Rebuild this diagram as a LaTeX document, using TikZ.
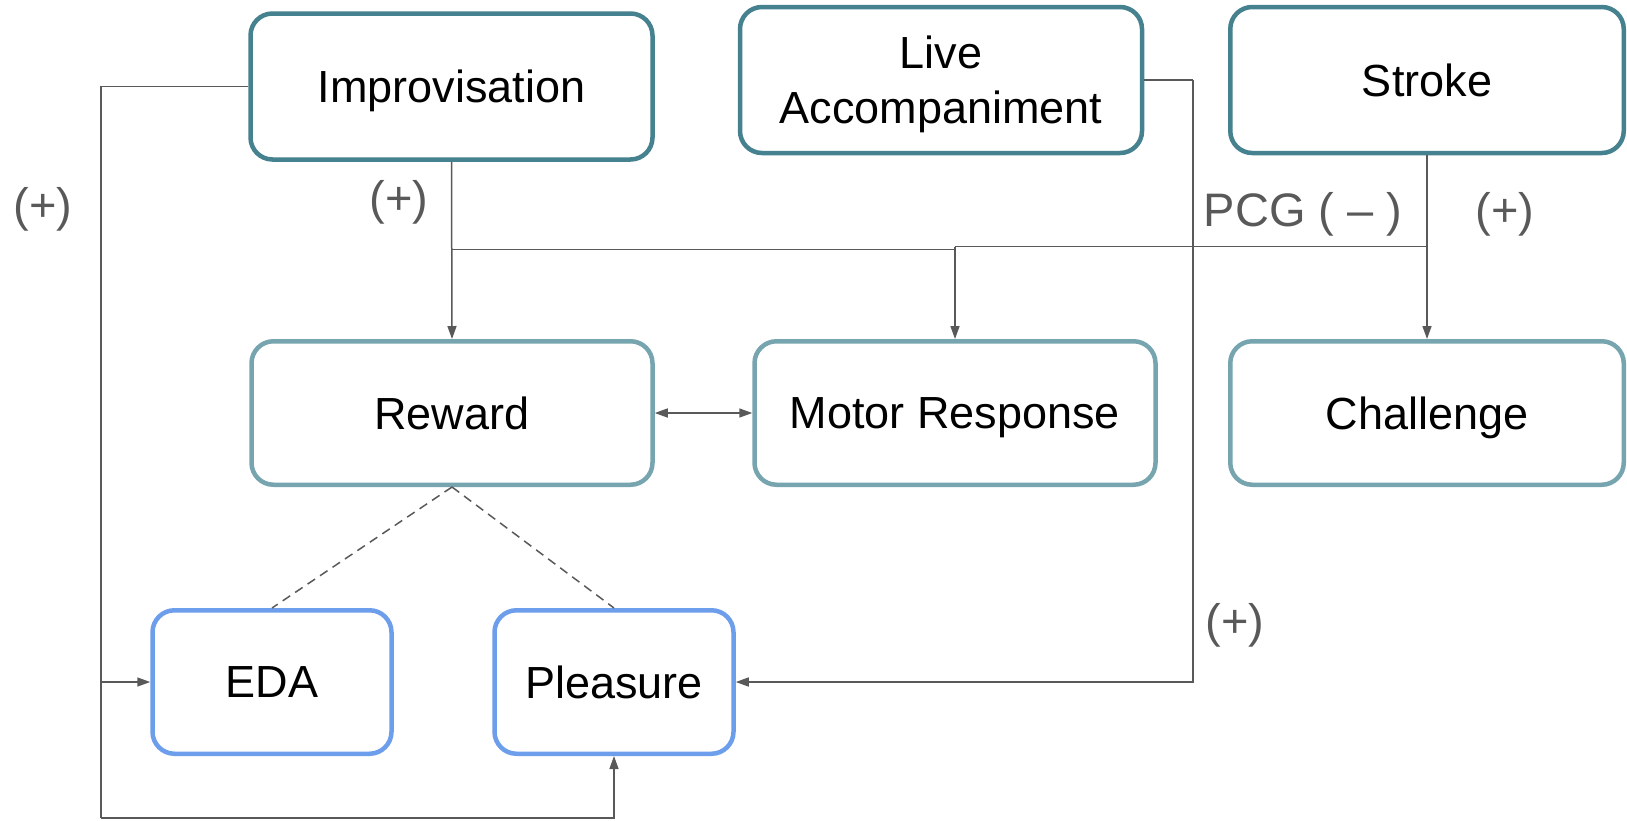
\documentclass[tikz,border=0pt]{standalone}
\usepackage{fontspec}
\setmainfont{Liberation Sans}
\usetikzlibrary{arrows.meta}
\definecolor{tealdark}{HTML}{45818E}
\definecolor{teallight}{HTML}{76A5AF}
\definecolor{bluebox}{HTML}{6D9EEB}
\definecolor{linegray}{HTML}{595959}
\begin{document}
\begin{tikzpicture}[x=0.5pt,y=-0.5pt,
  box/.style={draw, rounded corners=11pt, line width=2.25pt, fill=white, inner sep=0pt,
    align=center, text depth=0pt, font=\fontsize{22.5}{27.5}\selectfont, text=black},
  topbox/.style={box, draw=tealdark, minimum width=201pt, minimum height=73pt},
  midbox/.style={box, draw=teallight, minimum width=200.5pt, minimum height=71.75pt},
  lowbox/.style={box, draw=bluebox, minimum width=119.5pt, minimum height=71.75pt},
  conn/.style={draw=linegray, line width=0.75pt},
  arr/.style={conn, -{Triangle[length=6.5pt,width=4.5pt]}},
  darr/.style={conn, {Triangle[length=6.5pt,width=4.5pt]}-{Triangle[length=6.5pt,width=4.5pt]}},
  dashln/.style={conn, dash pattern=on 4.5pt off 3pt},
  lbl/.style={text=linegray, font=\fontsize{23.5}{28}\selectfont, inner sep=0pt},
]
\useasboundingbox (0,0) rectangle (1627,820);

% nodes
\node[topbox] (imp) at (451.5,86.5) {Improvisation};
\node[topbox] (live) at (941,80) {Live\\Accompaniment};
\node[topbox, minimum width=196.75pt] (stroke) at (1427,80) {Stroke};
\node[midbox] (reward) at (452,413) {Reward};
\node[midbox] (motor) at (955,413) {Motor Response};
\node[midbox, minimum width=196.75pt] (chal) at (1427,413) {Challenge};
\node[lowbox] (eda) at (272,682) {EDA};
\node[lowbox] (pleas) at (614,682) {Pleasure};

% helper coordinates
\coordinate (LT) at (101,86.5);
\coordinate (LB) at (101,818);
\coordinate (LE) at (101,682);
\coordinate (IJ) at (452,249.5);
\coordinate (MI) at (955,249.5);
\coordinate (MJ) at (955,246.5);
\coordinate (SJ) at (1427,246.5);
\coordinate (RT) at (1193,80);

% connectors
\draw[conn] (imp.west) -- (LT) -- (LB);
\draw[arr] (LB) -| (pleas.south);
\draw[arr] (LE) -- (eda.west);
\draw[arr] (imp.south) -- (reward.north);
\draw[conn] (IJ) -- (MI);
\draw[conn] (SJ) -- (MJ);
\draw[arr] (MJ) -- (motor.north);
\draw[arr] (stroke.south) -- (chal.north);
\draw[conn] (live.east) -- (RT);
\draw[arr] (RT) |- (pleas.east);
\draw[darr] (reward.east) -- (motor.west);
\draw[dashln] (reward.south) -- (eda.north);
\draw[dashln] (reward.south) -- (pleas.north);

% labels
\node[lbl] (p1) at (43,209) {(+)};
\node[lbl] (p2) at (399,202) {(+)};
\node[lbl] (pcg) at (1303,214) {PCG ( – )};
\node[lbl] (p3) at (1505,214) {(+)};
\node[lbl] (p4) at (1235,625) {(+)};
\end{tikzpicture}
\end{document}
